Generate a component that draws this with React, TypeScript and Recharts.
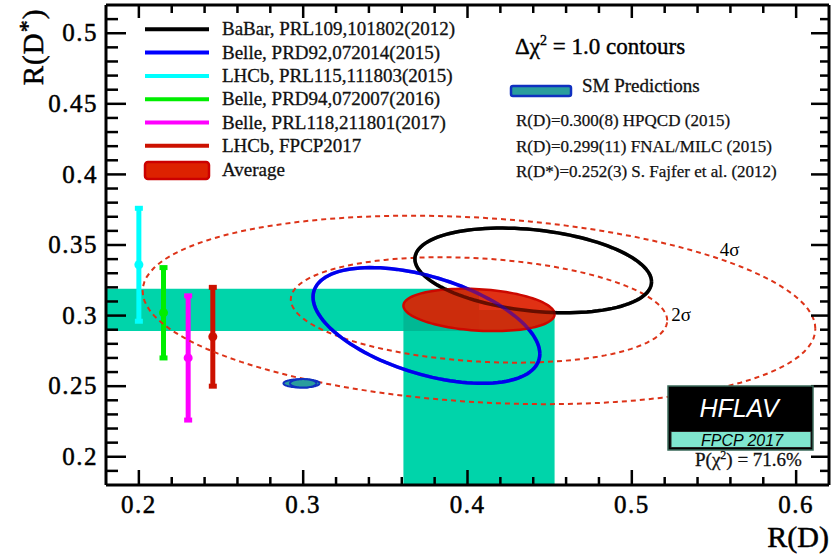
import { ComposedChart, XAxis, YAxis, Scatter, ErrorBar, ReferenceArea, ReferenceDot } from 'recharts'

const W = 834
const H = 554
const SERIF = "'Liberation Serif', 'Times New Roman', serif"

// legend
const legendLabels = [
  'BaBar, PRL109,101802(2012)',
  'Belle, PRD92,072014(2015)',
  'LHCb, PRL115,111803(2015)',
  'Belle, PRD94,072007(2016)',
  'Belle, PRL118,211801(2017)',
  'LHCb, FPCP2017',
]
const legendColors = ['#000000', '#0000ff', '#00ffff', '#00ee00', '#ff00ff', '#cc1100']

// 2D measurements: R(D), err, R(D*), err, correlation
const babar = { rd: 0.44, sRd: 0.072, rds: 0.332, sRds: 0.03, rho: -0.27 }
const belle2015 = { rd: 0.375, sRd: 0.069, rds: 0.293, sRds: 0.041, rho: -0.49 }

// R(D*)-only measurements (drawn at offset R(D) positions)
const rdsOnlyX = [0.2, 0.215, 0.23, 0.245]
const rdsOnlyY = [0.336, 0.302, 0.27, 0.285]
const rdsOnlyErr = [0.04, 0.032, 0.044, 0.035]
const rdsOnlyColors = ['#00ffff', '#00ee00', '#ff00ff', '#cc1100']

// world average
const avg = { rd: 0.407, sRd: 0.046, rds: 0.304, sRds: 0.015, rho: -0.2 }
const sigmaLabels = ['2σ', '4σ']
const sigmaScale = [2.49, 4.45]
const sigmaLabelX = [0.53, 0.5595]
const sigmaLabelY = [0.3007, 0.3469]

// SM predictions
const smRd = [0.299, 0.3]
const smRdErr = [0.011, 0.008]
const smRds = [0.252, 0.252]
const smRdsErr = [0.003, 0.003]

// axes
const xMajor = [0.2, 0.3, 0.4, 0.5, 0.6]
const xMinor = [0.22, 0.24, 0.26, 0.28, 0.32, 0.34, 0.36, 0.38, 0.42, 0.44, 0.46, 0.48, 0.52, 0.54, 0.56, 0.58]
const yMajor = [0.2, 0.25, 0.3, 0.35, 0.4, 0.45, 0.5]
const yMinor = [0.19, 0.21, 0.22, 0.23, 0.24, 0.26, 0.27, 0.28, 0.29, 0.31, 0.32, 0.33, 0.34, 0.36, 0.37, 0.38, 0.39, 0.41, 0.42, 0.43, 0.44, 0.46, 0.47, 0.48, 0.49, 0.51]

const xTicks = [...xMajor, ...xMinor].sort((a, b) => a - b)
const yTicks = [...yMajor, ...yMinor].sort((a, b) => a - b)

const isMajor = (list: number[], v: number) => list.some((m) => Math.abs(m - v) < 1e-9)

// delta chi2 contour of a correlated 2D gaussian
function contour(m: { rd: number; sRd: number; rds: number; sRds: number; rho: number }, k = 1) {
  const pts = []
  const n = 120
  for (let i = 0; i <= n; i++) {
    const t = (2 * Math.PI * i) / n
    pts.push({
      x: m.rd + k * m.sRd * Math.cos(t),
      y: m.rds + k * m.sRds * (m.rho * Math.cos(t) + Math.sqrt(1 - m.rho * m.rho) * Math.sin(t)),
    })
  }
  return pts
}

const noShape = () => <g />

// custom ticks: ticks point inward, labels only on major ticks
function BottomTick(props: any) {
  const { x, y, payload } = props
  const major = isMajor(xMajor, payload.value)
  return (
    <g>
      <line x1={x} x2={x} y1={y} y2={y - (major ? 15 : 8)} stroke="#000" strokeWidth={2.5} />
      {major && (
        <text x={x} y={y + 28} textAnchor="middle" fontSize={25} fontFamily={SERIF} letterSpacing={1.5} fill="#000" stroke="#000" strokeWidth={0.5}>
          {String(payload.value)}
        </text>
      )}
    </g>
  )
}

function TopTick(props: any) {
  const { x, y, payload } = props
  const major = isMajor(xMajor, payload.value)
  return <line x1={x} x2={x} y1={y} y2={y + (major ? 13 : 8)} stroke="#000" strokeWidth={2.5} />
}

function LeftTick(props: any) {
  const { x, y, payload } = props
  const major = isMajor(yMajor, payload.value)
  return (
    <g>
      <line x1={x} x2={x + (major ? 20 : 12)} y1={y} y2={y} stroke="#000" strokeWidth={2.5} />
      {major && (
        <text x={x - 8} y={y} dy="0.33em" textAnchor="end" fontSize={25} fontFamily={SERIF} letterSpacing={1.5} fill="#000" stroke="#000" strokeWidth={0.5}>
          {String(payload.value)}
        </text>
      )}
    </g>
  )
}

function RightTick(props: any) {
  const { x, y, payload } = props
  const major = isMajor(yMajor, payload.value)
  return <line x1={x} x2={x - (major ? 18 : 9)} y1={y} y2={y} stroke="#000" strokeWidth={2.5} />
}

const axisLine = { stroke: '#000', strokeWidth: 3 }

export default function App() {
  const rdsOnly = rdsOnlyX.map((x, i) => ({ x, y: rdsOnlyY[i], err: [rdsOnlyErr[i], rdsOnlyErr[i]] }))
  const band = '#00d4aa'

  return (
    <div style={{ position: 'relative', width: W, height: H, background: '#fff' }}>
      <style>{'body{margin:0}'}</style>
      <ComposedChart width={W} height={H} margin={{ top: 4, right: 4, bottom: 68, left: 105 }}>
        <XAxis
          type="number"
          dataKey="x"
          domain={[0.18, 0.62]}
          allowDataOverflow
          ticks={xTicks}
          interval={0}
          height={1}
          tickSize={0}
          tickMargin={0}
          tickLine={false}
          axisLine={axisLine}
          tick={<BottomTick />}
        />
        <XAxis
          xAxisId="top"
          orientation="top"
          type="number"
          dataKey="x"
          domain={[0.18, 0.62]}
          allowDataOverflow
          ticks={xTicks}
          interval={0}
          height={1}
          tickSize={0}
          tickMargin={0}
          tickLine={false}
          axisLine={axisLine}
          tick={<TopTick />}
        />
        <YAxis
          type="number"
          dataKey="y"
          domain={[0.18, 0.52]}
          allowDataOverflow
          ticks={yTicks}
          interval={0}
          width={1}
          tickSize={0}
          tickMargin={0}
          tickLine={false}
          axisLine={axisLine}
          tick={<LeftTick />}
        />
        <YAxis
          yAxisId="right"
          orientation="right"
          type="number"
          dataKey="y"
          domain={[0.18, 0.52]}
          allowDataOverflow
          ticks={yTicks}
          interval={0}
          width={1}
          tickSize={0}
          tickMargin={0}
          tickLine={false}
          axisLine={axisLine}
          tick={<RightTick />}
        />

        {/* average bands */}
        <ReferenceArea x1={0.18} x2={avg.rd} y1={avg.rds - avg.sRds} y2={avg.rds + avg.sRds} fill={band} fillOpacity={1} stroke="none" />
        <ReferenceArea x1={avg.rd - avg.sRd} x2={avg.rd + avg.sRd} y1={0.18} y2={avg.rds} fill={band} fillOpacity={1} stroke="none" />
        <ReferenceArea x1={avg.rd - avg.sRd} x2={avg.rd} y1={avg.rds - avg.sRds} y2={avg.rds} fill="#00b894" fillOpacity={1} stroke="none" />

        {/* 2 sigma / 4 sigma contours */}
        {sigmaScale.map((k, i) => (
          <Scatter
            key={'sig' + i}
            data={contour(avg, k)}
            shape={noShape}
            line={{ stroke: '#dd3318', strokeWidth: 2, strokeDasharray: '5 4', fill: 'none' }}
            legendType="none"
            isAnimationActive={false}
          />
        ))}

        {/* SM predictions */}
        {smRd.map((rd, i) => (
          <Scatter
            key={'sm' + i}
            data={contour({ rd, sRd: smRdErr[i], rds: smRds[i], sRds: smRdsErr[i], rho: 0 })}
            shape={noShape}
            line={{ stroke: '#1030c0', strokeWidth: 2, fill: '#2a9d9d' }}
            legendType="none"
            isAnimationActive={false}
          />
        ))}

        <Scatter data={contour(babar)} shape={noShape} line={{ stroke: '#000', strokeWidth: 3.5, fill: 'none' }} isAnimationActive={false} />
        <Scatter data={contour(belle2015)} shape={noShape} line={{ stroke: '#0000ee', strokeWidth: 3.5, fill: 'none' }} isAnimationActive={false} />

        <Scatter
          data={contour(avg)}
          shape={noShape}
          line={{ stroke: '#cc0800', strokeWidth: 2.5, fill: '#dd2000', fillOpacity: 0.92 }}
          isAnimationActive={false}
        />

        <Scatter data={contour(babar)} shape={noShape} line={{ stroke: '#000', strokeWidth: 3.5, fill: 'none', strokeOpacity: 0.5 }} isAnimationActive={false} />
        <Scatter data={contour(belle2015)} shape={noShape} line={{ stroke: '#0000ee', strokeWidth: 3.5, fill: 'none', strokeOpacity: 0.45 }} isAnimationActive={false} />

        {/* R(D*)-only measurements */}
        {rdsOnly.map((d, i) => (
          <Scatter
            key={'m' + i}
            data={[d]}
            shape={(p: any) => <circle cx={p.cx} cy={p.cy} r={4.5} fill={rdsOnlyColors[i]} />}
            isAnimationActive={false}
          >
            <ErrorBar dataKey="err" direction="y" width={4} strokeWidth={5} stroke={rdsOnlyColors[i]} />
          </Scatter>
        ))}

        {sigmaLabels.map((s, i) => (
          <ReferenceDot
            key={s}
            x={sigmaLabelX[i]}
            y={sigmaLabelY[i]}
            r={0}
            fill="none"
            stroke="none"
            label={{ value: s, position: 'center', fill: '#000', fontSize: 19, fontFamily: SERIF }}
          />
        ))}
      </ComposedChart>

      <svg width={W} height={H} style={{ position: 'absolute', left: 0, top: 0, pointerEvents: 'none' }} fontFamily={SERIF}>
        {/* axis titles */}
        <text transform="translate(43,47) rotate(-90)" textAnchor="middle" fontSize={29} letterSpacing={1} fill="#000" stroke="#000" strokeWidth={0.5}>
          R(D<tspan dy={-8} fontSize={24}>*</tspan>
          <tspan dy={8}>)</tspan>
        </text>
        <text x={829} y={547} textAnchor="end" fontSize={30} fill="#000" stroke="#000" strokeWidth={0.5}>
          R(D)
        </text>

        {/* legend */}
        {legendLabels.map((lab, i) => {
          const yc = 29.3 + i * 23.3
          return (
            <g key={lab}>
              <line x1={145} x2={209} y1={yc} y2={yc} stroke={legendColors[i]} strokeWidth={4} />
              <text x={222} y={yc + 6} fontSize={19} fill="#111" stroke="#111" strokeWidth={0.3}>
                {lab}
              </text>
            </g>
          )
        })}
        <rect x={145} y={162} width={64} height={17} rx={3} fill="#dd2200" stroke="#cc0000" strokeWidth={2.5} />
        <text x={222} y={176} fontSize={19} fill="#111" stroke="#111" strokeWidth={0.3}>
          Average
        </text>

        {/* contour info */}
        <text x={515} y={54} fontSize={23} fill="#000" stroke="#000" strokeWidth={0.4}>
          Δχ<tspan dy={-9} fontSize={14}>2</tspan>
          <tspan dy={9}> = 1.0 contours</tspan>
        </text>
        <rect x={511} y={86} width={60} height={10} rx={2} fill="#2a9d9d" stroke="#1030c0" strokeWidth={2.5} />
        <text x={582} y={92} fontSize={19} fill="#111" stroke="#111" strokeWidth={0.3}>
          SM Predictions
        </text>
        <text x={516} y={126} fontSize={17} fill="#111" stroke="#111" strokeWidth={0.25}>
          R(D)=0.300(8) HPQCD (2015)
        </text>
        <text x={516} y={152} fontSize={17} fill="#111" stroke="#111" strokeWidth={0.25}>
          R(D)=0.299(11) FNAL/MILC (2015)
        </text>
        <text x={516} y={177} fontSize={17} fill="#111" stroke="#111" strokeWidth={0.25}>
          R(D*)=0.252(3) S. Fajfer et al. (2012)
        </text>

        {/* HFLAV logo */}
        <rect x={668} y={386} width={145} height={64} fill="#000" stroke="#3a6a5a" strokeWidth={1.5} />
        <rect x={671} y={431.5} width={140} height={16} fill="#80e6cf" stroke="#222" strokeWidth={1} />
        <text x={739} y={417} textAnchor="middle" fill="#fff" fontFamily="'Liberation Sans', Arial, sans-serif" fontStyle="italic" fontSize={25}>
          HFLAV
        </text>
        <text x={742} y={446} textAnchor="middle" fill="#000" fontFamily="'Liberation Sans', Arial, sans-serif" fontStyle="italic" fontSize={16}>
          FPCP 2017
        </text>
        <text x={695} y={466} fontSize={19} fill="#111" stroke="#111" strokeWidth={0.3}>
          P(χ<tspan dy={-7} fontSize={12}>2</tspan>
          <tspan dy={7}>) = 71.6%</tspan>
        </text>
      </svg>
    </div>
  )
}
